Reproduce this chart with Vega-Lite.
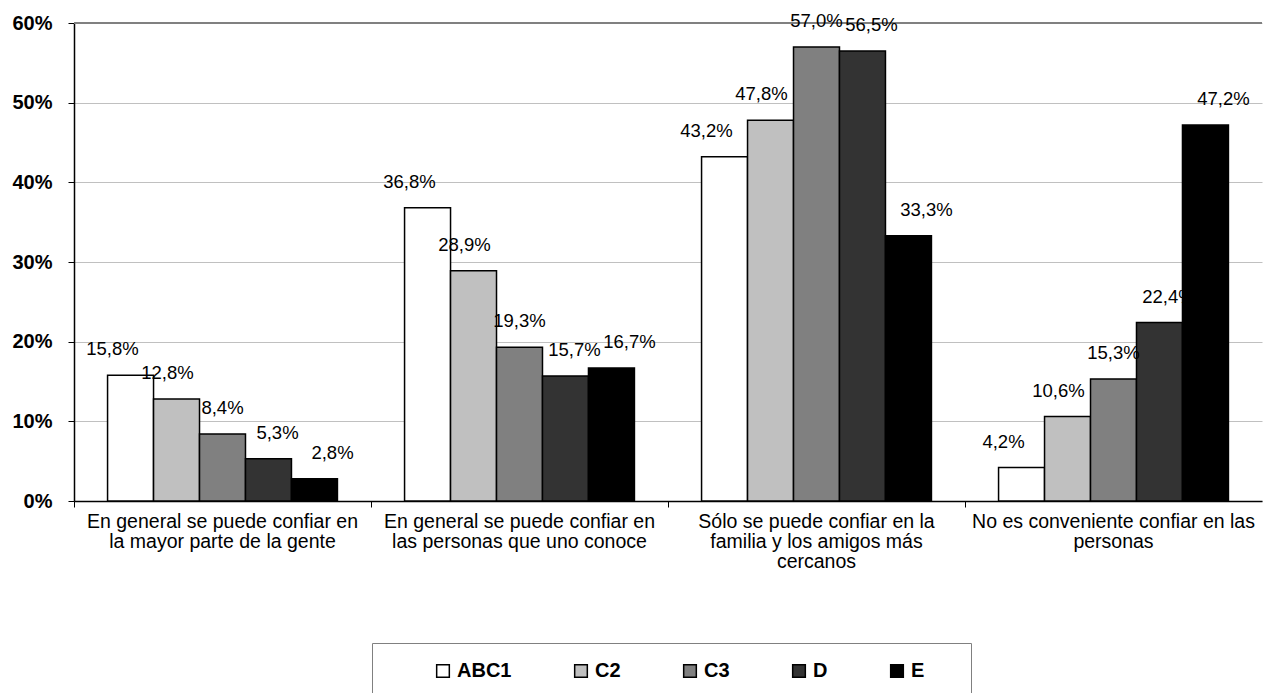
{
  "$schema": "https://vega.github.io/schema/vega-lite/v6.json",
  "width": 1188,
  "height": 478,
  "autosize": "none",
  "padding": {"left": 74, "top": 23, "right": 6, "bottom": 192},
  "background": "white",
  "config": {
    "view": {"stroke": null},
    "font": "Liberation Sans",
    "locale": {"number": {"decimal": ",", "thousands": ".", "grouping": [3], "currency": ["", " €"]}}
  },
  "data": {
    "values": [
      {"cat": "En general se puede confiar en la mayor parte de la gente", "grp": "ABC1", "v": 0.158},
      {"cat": "En general se puede confiar en la mayor parte de la gente", "grp": "C2", "v": 0.128},
      {"cat": "En general se puede confiar en la mayor parte de la gente", "grp": "C3", "v": 0.084},
      {"cat": "En general se puede confiar en la mayor parte de la gente", "grp": "D", "v": 0.053},
      {"cat": "En general se puede confiar en la mayor parte de la gente", "grp": "E", "v": 0.028},
      {"cat": "En general se puede confiar en las personas que uno conoce", "grp": "ABC1", "v": 0.368},
      {"cat": "En general se puede confiar en las personas que uno conoce", "grp": "C2", "v": 0.289},
      {"cat": "En general se puede confiar en las personas que uno conoce", "grp": "C3", "v": 0.193},
      {"cat": "En general se puede confiar en las personas que uno conoce", "grp": "D", "v": 0.157},
      {"cat": "En general se puede confiar en las personas que uno conoce", "grp": "E", "v": 0.167},
      {"cat": "Sólo se puede confiar en la familia y los amigos más cercanos", "grp": "ABC1", "v": 0.432},
      {"cat": "Sólo se puede confiar en la familia y los amigos más cercanos", "grp": "C2", "v": 0.478},
      {"cat": "Sólo se puede confiar en la familia y los amigos más cercanos", "grp": "C3", "v": 0.570},
      {"cat": "Sólo se puede confiar en la familia y los amigos más cercanos", "grp": "D", "v": 0.565},
      {"cat": "Sólo se puede confiar en la familia y los amigos más cercanos", "grp": "E", "v": 0.333},
      {"cat": "No es conveniente confiar en las personas", "grp": "ABC1", "v": 0.042},
      {"cat": "No es conveniente confiar en las personas", "grp": "C2", "v": 0.106},
      {"cat": "No es conveniente confiar en las personas", "grp": "C3", "v": 0.153},
      {"cat": "No es conveniente confiar en las personas", "grp": "D", "v": 0.224},
      {"cat": "No es conveniente confiar en las personas", "grp": "E", "v": 0.472}
    ]
  },
  "encoding": {
    "x": {
      "field": "cat",
      "type": "nominal",
      "title": null,
      "sort": [
        "En general se puede confiar en la mayor parte de la gente",
        "En general se puede confiar en las personas que uno conoce",
        "Sólo se puede confiar en la familia y los amigos más cercanos",
        "No es conveniente confiar en las personas"
      ],
      "scale": {"paddingInner": 0, "paddingOuter": 0},
      "axis": {
        "labelAngle": 0,
        "labelFontSize": 19.5,
        "labelColor": "black",
        "labelLimit": 0,
        "labelLineHeight": 20,
        "labelPadding": 5,
        "labelBaseline": "top",
        "bandPosition": 0,
        "labelAlign": "center",
        "tickColor": "black",
        "tickSize": 6,
        "domainColor": "black",
        "domainWidth": 1.5,
        "labelExpr": "datum.label == 'En general se puede confiar en la mayor parte de la gente' ? ['En general se puede confiar en', 'la mayor parte de la gente'] : datum.label == 'En general se puede confiar en las personas que uno conoce' ? ['En general se puede confiar en', 'las personas que uno conoce'] : datum.label == 'Sólo se puede confiar en la familia y los amigos más cercanos' ? ['Sólo se puede confiar en la', 'familia y los amigos más', 'cercanos'] : ['No es conveniente confiar en las', 'personas']"
      }
    },
    "y": {
      "field": "v",
      "type": "quantitative",
      "title": null,
      "scale": {"domain": [0, 0.6]},
      "axis": {
        "format": ".0%",
        "values": [0, 0.1, 0.2, 0.3, 0.4, 0.5, 0.6],
        "labelFontSize": 20,
        "labelFontWeight": "bold",
        "labelColor": "black",
        "labelPadding": 16,
        "tickColor": "black",
        "tickSize": 6,
        "domainColor": "black",
        "domainWidth": 1.5,
        "gridColor": "#c0c0c0",
        "gridWidth": 1
      }
    }
  },
  "resolve": {"scale": {"xOffset": "independent"}},
  "layer": [
    {
      "mark": {"type": "rule", "color": "#808080", "strokeWidth": 1.5},
      "encoding": {"y": {"datum": 0.6, "type": "quantitative"}, "x": {"value": 0}, "x2": {"value": 1188}}
    },
    {
      "mark": {"type": "bar", "stroke": "black", "strokeWidth": 1.5},
      "encoding": {
        "xOffset": {
          "field": "grp",
          "sort": ["ABC1", "C2", "C3", "D", "E"],
          "scale": {"paddingInner": 0, "paddingOuter": 0.73}
        },
        "color": {
          "field": "grp",
          "type": "nominal",
          "sort": ["ABC1", "C2", "C3", "D", "E"],
          "scale": {
            "domain": ["ABC1", "C2", "C3", "D", "E"],
            "range": ["#ffffff", "#c0c0c0", "#808080", "#333333", "#000000"]
          },
          "legend": {
            "title": "\u00a0",
            "titleOrient": "right",
            "titlePadding": 29,
            "titleFontSize": 20,
            "orient": "none",
            "direction": "horizontal",
            "legendX": 298,
            "legendY": 620,
            "padding": 18,
            "strokeColor": "#808080",
            "fillColor": "white",
            "symbolType": "square",
            "symbolSize": 160,
            "symbolStrokeColor": "black",
            "symbolStrokeWidth": 1.5,
            "symbolOffset": 43,
            "labelOffset": 4,
            "columnPadding": 16,
            "labelFontSize": 20,
            "labelFontWeight": "bold",
            "labelColor": "black"
          }
        }
      }
    },
    {
      "mark": {"type": "text", "fontSize": 18.5, "baseline": "middle", "dy": -26, "color": "black", "zindex": 2},
      "encoding": {
        "xOffset": {
          "field": "grp",
          "sort": ["ABC1", "C2", "C3", "D", "E"],
          "scale": {"type": "point", "padding": 0.7}
        },
        "text": {"field": "v", "type": "quantitative", "format": ".1%"}
      }
    }
  ]
}
